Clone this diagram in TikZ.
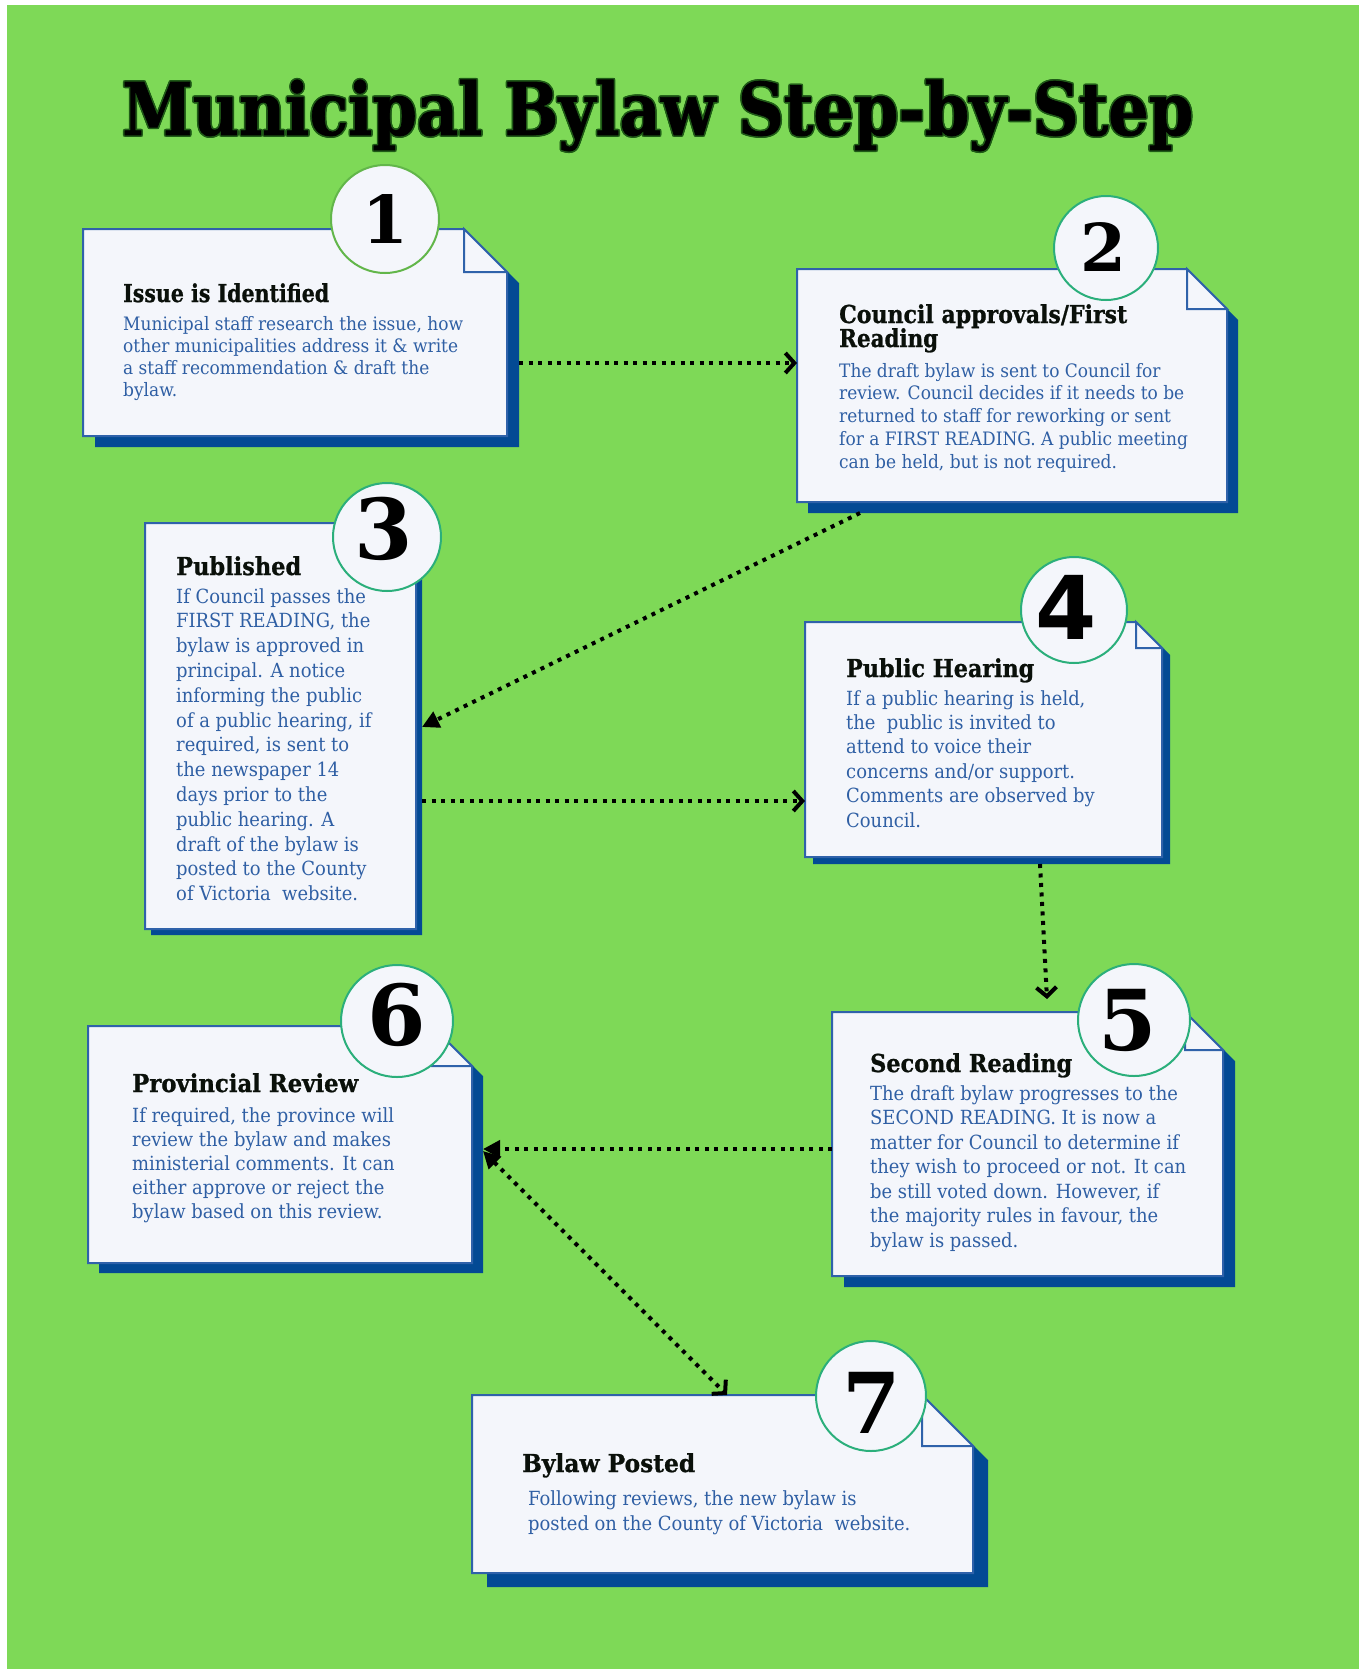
\documentclass[tikz,border=0pt]{standalone}
\usepackage{fontspec}
\usepackage{graphicx}
\setmainfont{DejaVu Serif}
\newfontfamily\bodyfont{DejaVu Serif}[FakeStretch=0.92]
\newfontfamily\headfont{DejaVu Serif}[BoldFeatures={FakeBold=1}]
\newfontfamily\numfont{DejaVu Serif}
\newfontfamily\numsans{DejaVu Sans}
\usetikzlibrary{arrows.meta}
\definecolor{bggreen}{HTML}{7ED957}
\definecolor{paper}{HTML}{F4F6FB}
\definecolor{boxline}{HTML}{2F62AA}
\definecolor{shadowblue}{HTML}{034A94}
\definecolor{bodyblue}{HTML}{2F5FA4}
\definecolor{headblack}{HTML}{0A100A}
\definecolor{ringgreen}{HTML}{62B64A}
\definecolor{ringteal}{HTML}{2BAF7B}
\definecolor{titleglow}{HTML}{1F5A17}
\tikzset{
  paperstyle/.style={fill=paper, draw=boxline, line width=2pt, line join=miter},
  boxarea/.style={rectangle, inner sep=0pt, outer sep=0pt},
  ring/.style={circle, fill=paper, line width=2pt, inner sep=0pt},
  headtxt/.style={inner sep=0pt, text=headblack, font=\fontsize{24.7}{28}\selectfont\headfont\bfseries},
  bodytxt/.style={inner sep=0pt, text=bodyblue},
  numtxt/.style={inner sep=0pt, text=black},
  titletxt/.style={inner sep=0pt, font=\fontsize{72.7}{80}\selectfont\headfont\bfseries},
  dotline/.style={line width=4pt, dash pattern=on 4pt off 5.5pt, black},
  chev/.tip={Straight Barb[length=9pt,width=20pt]},
  tri/.tip={Triangle[length=17pt,width=17pt]}
}
% #1 name, #2 left, #3 top, #4 right, #5 bottom, #6 fold, #7 dx, #8 dy
\newcommand\paperbox[8]{%
  \fill[shadowblue] (#2+#7,#3+#8) -- (#4-#6+#7,#3+#8) -- (#4+#7,#3+#6+#8) -- (#4+#7,#5+#8) -- (#2+#7,#5+#8) -- cycle;
  \filldraw[paperstyle] (#2,#3) -- (#4-#6,#3) -- (#4,#3+#6) -- (#4,#5) -- (#2,#5) -- cycle;
  \filldraw[paperstyle] (#4-#6,#3) -- (#4-#6,#3+#6) -- (#4,#3+#6) -- cycle;
  \node[boxarea, minimum width={#4+#7-#2}, minimum height={#5+#8-#3}] (#1) at ({(#2+#4+#7)/2},{(#3+#5+#8)/2}) {};
}
\newcommand\bodyblock[5]{% #1 name, #2 x, #3 y, #4 size/skip, #5 text
  \node[bodytxt, anchor=base west] (#1) at (#2,#3) {\parbox[t]{520pt}{\raggedright\bodyfont#4#5}};
}
\begin{document}
\begin{tikzpicture}[x=1pt,y=-1pt]
\useasboundingbox (0,0) rectangle (1368,1671);
\fill[bggreen] (7,5) rectangle (1359,1669);

% title
\foreach \dx/\dy [count=\i] in {1.6/0,-1.6/0,0/1.6,0/-1.6,1.2/1.2,-1.2/1.2,1.2/-1.2,-1.2/-1.2}
  \node[titletxt, text=titleglow, anchor=base west] (tglow\i) at (122+\dx,135+\dy) {\resizebox{1071pt}{\height}{Municipal Bylaw Step-by-Step}};
\node[titletxt, text=black, anchor=base west] (title) at (122,135) {\resizebox{1071pt}{\height}{Municipal Bylaw Step-by-Step}};

% boxes
\paperbox{b1}{83}{229}{507}{436}{43}{12}{11}
\paperbox{b2}{797}{269}{1227}{502}{40}{11}{11}
\paperbox{b3}{145}{523}{416}{929}{40}{6}{6}
\paperbox{b4}{805}{622}{1162}{857}{26}{8}{7}
\paperbox{b5}{832}{1012}{1223}{1276}{38}{12}{11}
\paperbox{b6}{88}{1026}{472}{1263}{40}{11}{10}
\paperbox{b7}{472}{1395}{973}{1573}{51}{15}{14}

% number rings
\node[ring, draw=ringgreen, minimum size=108pt] (c1) at (385,219) {};
\node[ring, draw=ringteal, minimum size=104pt] (c2) at (1106,248) {};
\node[ring, draw=ringteal, minimum size=108pt] (c3) at (387,537) {};
\node[ring, draw=ringteal, minimum size=106pt] (c4) at (1074,610) {};
\node[ring, draw=ringteal, minimum size=112pt] (c5) at (1134,1020) {};
\node[ring, draw=ringteal, minimum size=112pt] (c6) at (397,1021) {};
\node[ring, draw=ringteal, minimum size=110pt] (c7) at (871,1396) {};

\node[numtxt, font=\fontsize{66}{70}\selectfont\numfont\bfseries] (d1) at (385,219) {1};
\node[numtxt, font=\fontsize{66}{70}\selectfont\numfont\bfseries] (d2) at (1103,247) {2};
\node[numtxt, font=\fontsize{84}{90}\selectfont\numfont\bfseries] (d3) at (384,529) {3};
\node[numtxt, font=\fontsize{88}{90}\selectfont\numsans\bfseries] (d4) at (1066,607) {4};
\node[numtxt, font=\fontsize{84}{90}\selectfont\numfont\bfseries] (d5) at (1128,1020) {5};
\node[numtxt, font=\fontsize{84}{90}\selectfont\numfont\bfseries] (d6) at (397,1015) {6};
\node[numtxt, font=\fontsize{84}{90}\selectfont\numfont\bfseries] (d7) at (872,1403) {7};

% headings
\node[headtxt, anchor=base west] (h1) at (123,302) {\resizebox{206pt}{\height}{Issue is Identified}};
\node[headtxt, anchor=base west] (h2a) at (839,323) {\resizebox{288pt}{\height}{Council approvals/First}};
\node[headtxt, anchor=base west] (h2b) at (839,347) {\resizebox{99pt}{\height}{Reading}};
\node[headtxt, anchor=base west] (h3) at (176,575) {\resizebox{125pt}{\height}{Published}};
\node[headtxt, anchor=base west] (h4) at (846,677) {\resizebox{188pt}{\height}{Public Hearing}};
\node[headtxt, anchor=base west] (h5) at (870,1072) {\resizebox{202pt}{\height}{Second Reading}};
\node[headtxt, anchor=base west] (h6) at (132,1092) {\resizebox{226pt}{\height}{Provincial Review}};
\node[headtxt, anchor=base west] (h7) at (522,1472) {\resizebox{173pt}{\height}{Bylaw Posted}};

% body texts
\bodyblock{t1}{123}{330}{\fontsize{18.5}{22.2}\selectfont}{Municipal staff research the issue, how\\other municipalities address it \& write\\a staff recommendation \& draft the\\bylaw.}
\bodyblock{t2}{839}{377}{\fontsize{18.5}{22.8}\selectfont}{The draft bylaw is sent to Council for\\review. Council decides if it needs to be\\returned to staff for reworking or sent\\for a FIRST READING. A public meeting\\can be held, but is not required.}
\bodyblock{t3}{176}{603}{\fontsize{19.5}{24.8}\selectfont}{If Council passes the\\FIRST READING, the\\bylaw is approved in\\principal. A notice\\informing the public\\of a public hearing, if\\required, is sent to\\the newspaper 14\\days prior to the\\public hearing. A\\draft of the bylaw is\\posted to the County\\of Victoria~ website.}
\bodyblock{t4}{846}{705}{\fontsize{19.5}{24.4}\selectfont}{If a public hearing is held,\\the~ public is invited to\\attend to voice their\\concerns and/or support.\\Comments are observed by\\Council.}
\bodyblock{t5}{870}{1100}{\fontsize{19.5}{24.5}\selectfont}{The draft bylaw progresses to the\\SECOND READING. It is now a\\matter for Council to determine if\\they wish to proceed or not. It can\\be still voted down. However, if\\the majority rules in favour, the\\bylaw is passed.}
\bodyblock{t6}{132}{1122}{\fontsize{19.5}{24}\selectfont}{If required, the province will\\review the bylaw and makes\\ministerial comments. It can\\either approve or reject the\\bylaw based on this review.}
\bodyblock{t7}{528}{1505}{\fontsize{19.5}{25}\selectfont}{Following reviews, the new bylaw is\\posted on the County of Victoria~ website.}

% connectors
\coordinate (r12) at (0,363);
\coordinate (s23) at (860,0);
\coordinate (r23) at (0,727);
\coordinate (r34) at (0,801);
\coordinate (s45) at (1040,0);
\coordinate (e45) at (1047,999);
\coordinate (r56) at (0,1149);
\coordinate (s67) at (0,1151);
\coordinate (e67) at (727,0);
\draw[dotline, -{chev}] (b1.east |- r12) -- (b2.west |- r12);
\draw[dotline, -{tri}] (b2.south -| s23) -- (b3.east |- r23);
\draw[dotline, -{chev}] (b3.east |- r34) -- (b4.west |- r34);
\draw[dotline, -{chev}] (b4.south -| s45) -- (e45);
\draw[dotline, -{tri}] (b5.west |- r56) -- (b6.east |- r56);
\draw[dotline, {tri}-{chev}] (b6.east |- s67) -- (b7.north -| e67);
\end{tikzpicture}
\end{document}
